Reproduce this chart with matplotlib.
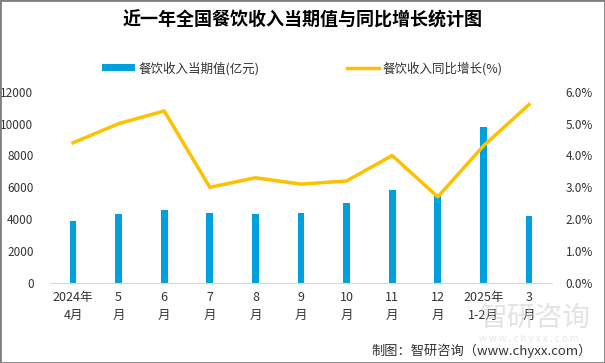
import numpy as np
import matplotlib.pyplot as plt
from matplotlib.patches import Rectangle

plt.rcParams['font.family'] = ['Noto Sans CJK SC', 'DejaVu Sans']

# data
months = ['2024年\n4月', '5\n月', '6\n月', '7\n月', '8\n月', '9\n月', '10\n月',
          '11\n月', '12\n月', '2025年\n1-2月', '3\n月']
revenue = [3900, 4300, 4600, 4400, 4300, 4400, 5000, 5800, 5600, 9800, 4200]
growth = [4.4, 5.0, 5.4, 3.0, 3.3, 3.1, 3.2, 4.0, 2.7, 4.3, 5.6]

bar_color = '#00A0DC'
line_color = '#FFC000'
txt = '#333333'

fig = plt.figure(figsize=(6.05, 3.63), dpi=100)
ax = fig.add_axes([0.083, 0.221, 0.829, 0.526])
ax2 = ax.twinx()

x = np.arange(len(months))
b = ax.bar(x, revenue, width=0.15, color=bar_color, label='餐饮收入当期值(亿元)', zorder=2)
l, = ax2.plot(x, np.array(growth) / 100, color=line_color, lw=2.5, label='餐饮收入同比增长(%)', zorder=3)

ax.set_xlim(-0.5, len(months) - 0.5)
ax.set_ylim(0, 12000)
ax.set_yticks(np.arange(0, 12001, 2000))
ax2.set_ylim(0, 0.06)
ax2.set_yticks(np.arange(0, 0.0601, 0.01))
ax2.set_yticklabels(['%.1f%%' % (v * 100) for v in np.arange(0, 0.0601, 0.01)])

ax.set_xticks(x)
ax.set_xticklabels(months, fontsize=9, color=txt, linespacing=1.5)
ax.tick_params(axis='x', length=0, pad=6)
ax.tick_params(axis='y', length=0, labelsize=8.5, labelcolor=txt, pad=12)
ax2.tick_params(axis='y', length=0, labelsize=8.5, labelcolor=txt, pad=10)

for a in (ax, ax2):
    for s in a.spines.values():
        s.set_visible(False)
ax.spines['bottom'].set_visible(True)
ax.spines['bottom'].set_color('#d9d9d9')

ax.set_zorder(ax2.get_zorder() - 1)
ax.patch.set_visible(False)

fig.legend([b, l], ['餐饮收入当期值(亿元)', '餐饮收入同比增长(%)'], loc='center',
           bbox_to_anchor=(0.5, 0.812), ncol=2, frameon=False, fontsize=9,
           handlelength=2.6, handleheight=0.5, columnspacing=7, labelcolor=txt,
           handletextpad=0.3)

fig.text(0.5, 0.945, '近一年全国餐饮收入当期值与同比增长统计图', ha='center', va='center',
         fontsize=13, fontweight='bold', color='black')

# watermark
fig.text(0.885, 0.125, '智研咨询', ha='center', va='center', fontsize=20, color='#c8c8c8', alpha=0.5)
fig.text(0.875, 0.066, 'w w w . c h y x x . c o m', ha='center', va='center', fontsize=7, color='#d0d0d0', alpha=0.5)

fig.text(0.979, 0.033, '制图：智研咨询（www.chyxx.com）', ha='right', va='center', fontsize=9.5, color=txt)

fig.patches.append(Rectangle((0, 0), 1, 1, transform=fig.transFigure, fill=False,
                             edgecolor='#808080', lw=2))

fig.savefig('out.png', dpi=100)
